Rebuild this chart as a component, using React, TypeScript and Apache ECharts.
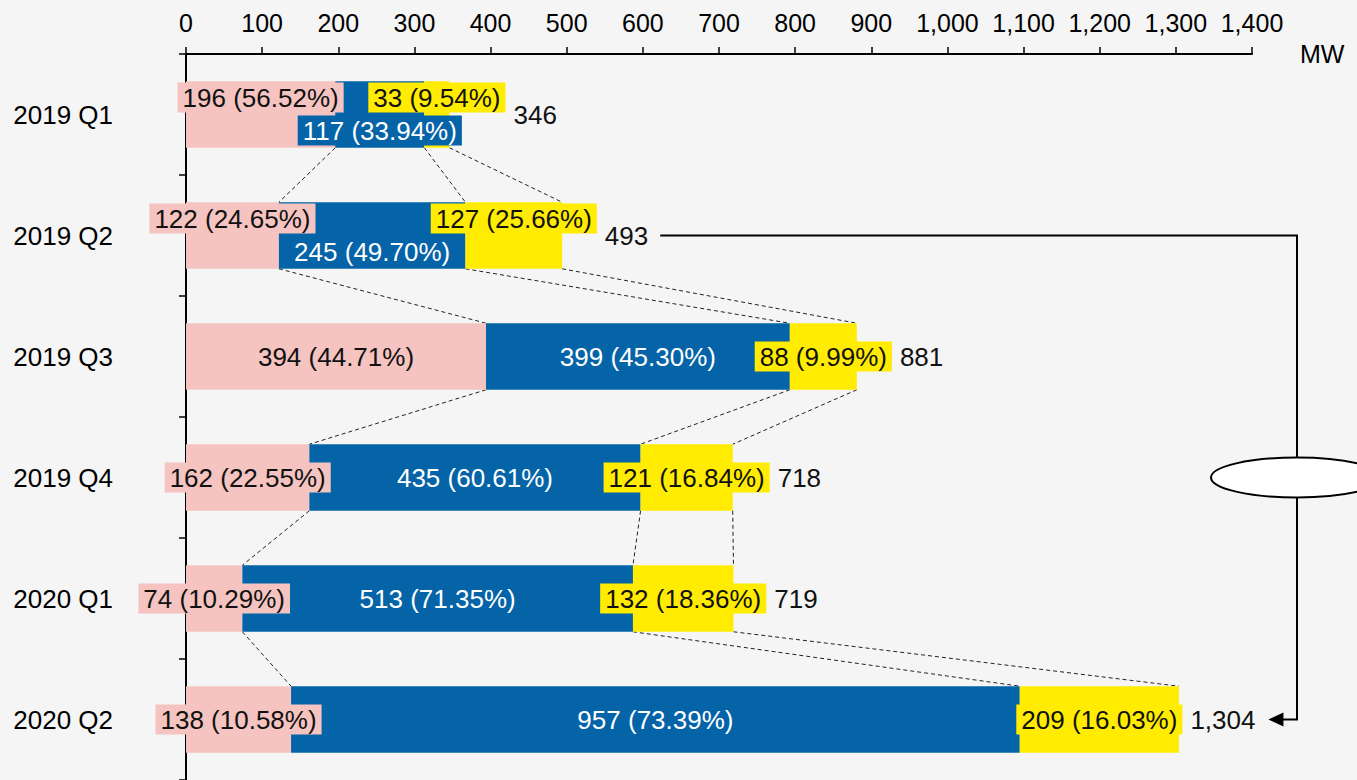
import React, { useEffect, useRef } from "react";
import * as echarts from "echarts";

const categories = ["2019 Q1", "2019 Q2", "2019 Q3", "2019 Q4", "2020 Q1", "2020 Q2"];
const pinkValues = [196, 122, 394, 162, 74, 138];
const pinkPct = ["56.52%", "24.65%", "44.71%", "22.55%", "10.29%", "10.58%"];
const blueValues = [117, 245, 399, 435, 513, 957];
const bluePct = ["33.94%", "49.70%", "45.30%", "60.61%", "71.35%", "73.39%"];
const yellowValues = [33, 127, 88, 121, 132, 209];
const yellowPct = ["9.54%", "25.66%", "9.99%", "16.84%", "18.36%", "16.03%"];
const totals = ["346", "493", "881", "718", "719", "1,304"];
const xMin = 0;
const xMax = 1400;
const xInterval = 100;
const unitLabel = "MW";

const PINK = "#F5C4C0";
const BLUE = "#0563A7";
const YELLOW = "#FFEC00";
const FONT = 'Arial, "Liberation Sans", Helvetica, sans-serif';
const FS = 26;
const BAR_FRAC = 0.55;
const LABEL_PAD_H = 5;
const TOTAL_GAP = 8;

let measureCtx: CanvasRenderingContext2D | null = null;
function measure(s: string, size = FS) {
  if (!measureCtx) measureCtx = document.createElement("canvas").getContext("2d");
  measureCtx!.font = `${size}px ${FONT}`;
  return measureCtx!.measureText(s).width;
}

export default function App() {
  const ref = useRef<HTMLDivElement>(null);
  useEffect(() => {
    document.body.style.margin = "0";
    const chart = echarts.init(ref.current!, undefined, { renderer: "svg" });

    const cum1 = pinkValues.slice();
    const cum2 = pinkValues.map((v, i) => v + blueValues[i]);
    const cum3 = cum2.map((v, i) => v + yellowValues[i]);
    const yellowText = yellowValues.map((v, i) => `${v} (${yellowPct[i]})`);

    const staggerRows = 2;
    const mkData = (vals: number[], up: boolean) =>
      vals.map((v, i) =>
        i < staggerRows ? { value: v, label: { offset: [0, up ? -17 : 16] } } : v
      );

    const baseLabel = (color: string, bg: string, pct: string[]) => ({
      show: true,
      position: "inside",
      color,
      fontSize: FS,
      fontFamily: FONT,
      lineHeight: FS,
      backgroundColor: bg,
      padding: [2, LABEL_PAD_H],
      formatter: (p: any) => `${p.value} (${pct[p.dataIndex]})`,
    });

    const connectors: number[][] = [];
    for (let i = 0; i < categories.length - 1; i++) {
      connectors.push([cum1[i], cum1[i + 1], i]);
      connectors.push([cum2[i], cum2[i + 1], i]);
      connectors.push([cum3[i], cum3[i + 1], i]);
    }

    const totalX = (api: any, i: number) => {
      const c = api.coord([cum2[i] + yellowValues[i] / 2, i]);
      return c[0] + (measure(yellowText[i]) + 2 * LABEL_PAD_H) / 2 + TOTAL_GAP;
    };

    chart.setOption({
      animation: false,
      backgroundColor: "#f5f5f5",
      textStyle: { fontFamily: FONT },
      grid: { left: 186, right: 105, top: 54, bottom: 0, containLabel: false },
      xAxis: {
        type: "value",
        position: "top",
        min: xMin,
        max: xMax,
        interval: xInterval,
        name: unitLabel,
        nameLocation: "end",
        nameGap: 48,
        nameTextStyle: { color: "#000", fontSize: 25, fontFamily: FONT },
        axisLine: { show: true, lineStyle: { color: "#000", width: 2 } },
        axisTick: { show: true, length: 7, lineStyle: { color: "#000", width: 1.5 } },
        axisLabel: {
          color: "#000",
          fontSize: 25,
          fontFamily: FONT,
          margin: 19,
          formatter: (v: number) => v.toLocaleString("en-US"),
        },
        splitLine: { show: false },
      },
      yAxis: {
        type: "category",
        inverse: true,
        data: categories,
        axisLine: { show: true, lineStyle: { color: "#000", width: 2 } },
        axisTick: { show: true, length: 7, lineStyle: { color: "#000", width: 1.5 } },
        axisLabel: { color: "#000", fontSize: FS, fontFamily: FONT, margin: 73 },
        splitLine: { show: false },
      },
      series: [
        {
          type: "custom",
          name: "connectors",
          z: 1,
          silent: true,
          dimensions: ["from", "to", "row"],
          encode: { x: [0, 1], y: 2 },
          data: connectors,
          renderItem: (params: any, api: any) => {
            const r = api.value(2);
            const p1 = api.coord([api.value(0), r]);
            const p2 = api.coord([api.value(1), r + 1]);
            const h = (api.size([0, 1])[1] * BAR_FRAC) / 2;
            return {
              type: "line",
              shape: { x1: p1[0], y1: p1[1] + h, x2: p2[0], y2: p2[1] - h },
              style: { stroke: "#222", lineWidth: 1, lineDash: [4, 3] },
            };
          },
        },
        {
          type: "bar",
          name: "pink",
          stack: "total",
          barWidth: `${BAR_FRAC * 100}%`,
          itemStyle: { color: PINK },
          label: baseLabel("#111", PINK, pinkPct),
          data: mkData(pinkValues, true),
        },
        {
          type: "bar",
          name: "blue",
          stack: "total",
          barWidth: `${BAR_FRAC * 100}%`,
          itemStyle: { color: BLUE },
          label: baseLabel("#fff", BLUE, bluePct),
          data: mkData(blueValues, false),
        },
        {
          type: "bar",
          name: "yellow",
          stack: "total",
          barWidth: `${BAR_FRAC * 100}%`,
          itemStyle: { color: YELLOW },
          label: baseLabel("#111", YELLOW, yellowPct),
          data: mkData(yellowValues, true),
        },
        {
          type: "custom",
          name: "totals",
          z: 5,
          silent: true,
          encode: { x: 0, y: 1 },
          data: categories.map((_, i) => [cum2[i] + yellowValues[i] / 2, i]),
          renderItem: (params: any, api: any) => {
            const i = params.dataIndex;
            const c = api.coord([api.value(0), i]);
            return {
              type: "text",
              x: totalX(api, i),
              y: c[1],
              style: {
                text: totals[i],
                fill: "#111",
                fontSize: FS,
                fontFamily: FONT,
                align: "left",
                verticalAlign: "middle",
              },
            };
          },
        },
        {
          type: "custom",
          name: "bracket",
          z: 5,
          silent: true,
          encode: { x: 0, y: 1 },
          data: [[0, 0]],
          renderItem: (params: any, api: any) => {
            const from = 1;
            const to = 5;
            const mid = 3;
            const yFrom = api.coord([0, from])[1];
            const yTo = api.coord([0, to])[1];
            const yMid = api.coord([0, mid])[1];
            const startX = totalX(api, from) + measure(totals[from]) + 12;
            const tipX = totalX(api, to) + measure(totals[to]) + 13;
            const vx = api.getWidth() - 60;
            return {
              type: "group",
              children: [
                {
                  type: "polyline",
                  shape: { points: [[startX, yFrom], [vx, yFrom], [vx, yTo], [tipX + 10, yTo]] },
                  style: { stroke: "#000", lineWidth: 2, fill: null },
                },
                {
                  type: "polygon",
                  shape: { points: [[tipX, yTo], [tipX + 15, yTo - 7], [tipX + 15, yTo + 7]] },
                  style: { fill: "#000" },
                },
                {
                  type: "ellipse",
                  shape: { cx: vx, cy: yMid, rx: 86, ry: 20 },
                  style: { fill: "#fff", stroke: "#000", lineWidth: 2 },
                },
              ],
            };
          },
        },
      ],
    });
    return () => chart.dispose();
  }, []);
  return <div ref={ref} style={{ position: "fixed", left: 0, top: 0, width: 1357, height: 780 }} />;
}
